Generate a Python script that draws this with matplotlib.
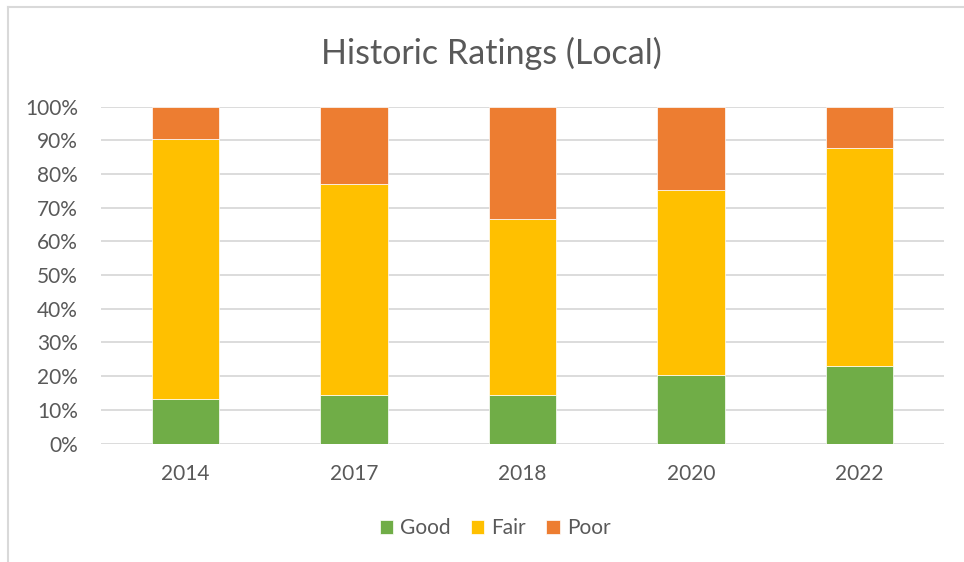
import matplotlib.pyplot as plt
from matplotlib.lines import Line2D

years = ["2014", "2017", "2018", "2020", "2022"]
good = [13.1, 14.4, 14.4, 20.3, 23.1]
fair = [77.2, 62.6, 52.4, 54.9, 64.5]
poor = [9.7, 23.0, 33.2, 24.8, 12.4]
yticks = [0, 10, 20, 30, 40, 50, 60, 70, 80, 90, 100]

plt.rcParams["font.family"] = ["Lato", "DejaVu Sans"]
text_color = "#595959"

fig = plt.figure(figsize=(9.64, 5.62), dpi=100)
ax = fig.add_axes([101 / 964, (562 - 443.5) / 562, 843 / 964, 336.8 / 562])

x = range(len(years))
bottom2 = [g + f for g, f in zip(good, fair)]
ax.bar(x, good, width=0.4, color="#70AD47", edgecolor="white", linewidth=0.5, label="Good", zorder=3)
ax.bar(x, fair, width=0.4, bottom=good, color="#FFC000", edgecolor="white", linewidth=0.5, label="Fair", zorder=3)
ax.bar(x, poor, width=0.4, bottom=bottom2, color="#ED7D31", edgecolor="white", linewidth=0.5, label="Poor", zorder=3)

ax.set_xlim(-0.5, len(years) - 0.5)
ax.set_ylim(0, 100)
ax.set_yticks(yticks)
ax.set_yticklabels([f"{t}%" for t in yticks])
ax.set_xticks(list(x))
ax.set_xticklabels(years)
ax.tick_params(axis="both", length=0, labelsize=15, colors=text_color)
ax.tick_params(axis="y", pad=16.5)
ax.tick_params(axis="x", pad=15)
ax.grid(axis="y", color="#D9D9D9", linewidth=1.3, zorder=0)
for s in ax.spines.values():
    s.set_visible(False)

fig.suptitle("Historic Ratings (Local)", x=491 / 964, y=1 - 53 / 562, va="center",
             fontsize=24.5, color=text_color)

ax.legend(loc="center", bbox_to_anchor=(495 / 964, 1 - 528 / 562), bbox_transform=fig.transFigure,
          ncol=3, frameon=False, fontsize=15, labelcolor=text_color,
          handlelength=0.65, handleheight=0.65, handletextpad=0.35, columnspacing=0.95)

# chart border (left and top visible)
fig.add_artist(Line2D([8 / 964, 8 / 964], [0, 1 - 7 / 562], transform=fig.transFigure, color="#D9D9D9", linewidth=1.5))
fig.add_artist(Line2D([8 / 964, 1], [1 - 7 / 562, 1 - 7 / 562], transform=fig.transFigure, color="#D9D9D9", linewidth=1.5))

fig.savefig("out.png", dpi=100)
